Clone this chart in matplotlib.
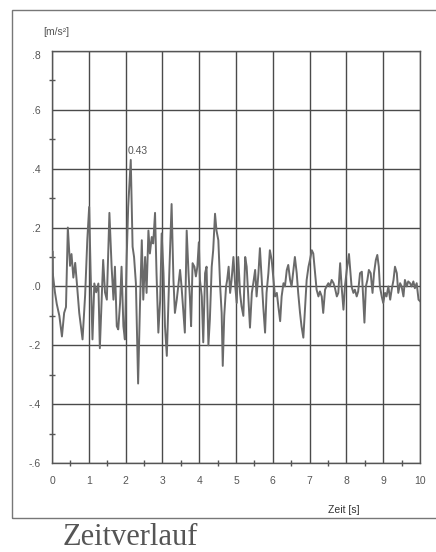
import matplotlib
matplotlib.use("Agg")
import matplotlib.pyplot as plt
from matplotlib.ticker import MultipleLocator, FuncFormatter
from matplotlib.patches import Rectangle

plt.rcParams["font.family"] = ["Liberation Sans", "DejaVu Sans"]

# acceleration trace: time [s] and value [m/s²]
zeit = [0.00, 0.01, 0.02, 0.08, 0.13, 0.20, 0.27, 0.33, 0.38, 0.43, 0.49, 0.53,
        0.58, 0.63, 0.67, 0.74, 0.83, 0.90, 0.96, 1.01, 1.05, 1.10, 1.15, 1.20,
        1.26, 1.30, 1.35, 1.39, 1.44, 1.49, 1.56,
        1.62, 1.67, 1.71, 1.76, 1.80, 1.85, 1.89, 1.94, 1.98, 2.03, 2.07, 2.14,
        2.19, 2.23, 2.28, 2.34, 2.39, 2.44, 2.48, 2.53, 2.57, 2.62, 2.66, 2.71,
        2.75, 2.80, 2.84, 2.89, 2.94, 2.98, 3.03, 3.07, 3.12, 3.19, 3.25,
        3.30, 3.34, 3.39, 3.43, 3.48, 3.52, 3.57, 3.61, 3.66, 3.71, 3.75, 3.78,
        3.82, 3.87, 3.91, 3.95, 3.99, 4.02, 4.07, 4.11, 4.16, 4.20, 4.25, 4.29,
        4.34, 4.38, 4.43, 4.47, 4.52, 4.57, 4.61, 4.64, 4.68, 4.73, 4.76, 4.80,
        4.84, 4.88, 4.93,
        4.98, 5.02, 5.06, 5.11, 5.15, 5.20, 5.25, 5.29, 5.34, 5.38, 5.43, 5.47,
        5.52, 5.56, 5.61, 5.65, 5.70, 5.74, 5.79, 5.83, 5.88, 5.92, 5.97, 6.01,
        6.06, 6.11, 6.15, 6.20, 6.24, 6.29, 6.33, 6.38, 6.42, 6.47,
        6.51, 6.56, 6.60, 6.65, 6.69, 6.74, 6.78, 6.83, 6.88, 6.92, 6.97, 7.01,
        7.06, 7.10, 7.15, 7.19, 7.24, 7.28, 7.33, 7.37, 7.42, 7.46, 7.51, 7.55,
        7.60, 7.65, 7.69, 7.74, 7.78, 7.83, 7.87, 7.92, 7.96, 8.01, 8.07,
        8.14, 8.19, 8.23, 8.28, 8.32, 8.37, 8.42, 8.46, 8.49, 8.53, 8.57, 8.61,
        8.66, 8.71, 8.75, 8.80, 8.84, 8.88, 8.91, 8.96, 9.00, 9.05, 9.09, 9.14,
        9.19, 9.23, 9.28, 9.32, 9.37, 9.41, 9.46, 9.50, 9.55, 9.59, 9.64, 9.68,
        9.73, 9.77, 9.82, 9.86, 9.91, 9.96, 10.00]
beschl = [-0.09, 0.12, 0.045, -0.02, -0.06, -0.10, -0.17, -0.09, -0.07, 0.20, 0.07, 0.11,
          0.03, 0.08, 0.02, -0.09, -0.18, -0.03, 0.16, 0.27, 0.045, -0.18, 0.01, -0.02,
          0.01, -0.21, -0.045, 0.09, -0.02, -0.045, 0.25,
          0.067, -0.045, 0.067, -0.135, -0.146, -0.056, 0.067, -0.135, -0.18, 0.10, 0.27, 0.43,
          0.135, 0.10, 0.01, -0.33, -0.067, 0.157, -0.045, 0.10, -0.022, 0.19, 0.112, 0.168,
          0.146, 0.25, 0.045, -0.157, -0.045, 0.18, 0.045, -0.135, -0.236, 0.056, 0.28,
          0.022, -0.09, -0.045, 0.0, 0.056, 0.0, -0.09, -0.157, 0.19, 0.045, -0.045, -0.135,
          0.079, 0.067, 0.034, 0.067, 0.15, 0.022, -0.034, -0.19, 0.045, 0.067, -0.20, -0.112,
          0.067, 0.123, 0.247, 0.19, 0.157, 0.0, -0.09, -0.27, -0.10, 0.0, 0.022, 0.067,
          -0.022, 0.022, 0.10,
          0.0, -0.056, 0.10, -0.022, -0.067, -0.10, 0.10, 0.067, -0.045, -0.14, -0.022, 0.011,
          0.056, -0.034, 0.045, 0.13, 0.022, -0.067, -0.157, -0.022, 0.045, 0.123, 0.09, 0.034,
          -0.034, -0.022, -0.067, -0.118, -0.034, 0.011, 0.0, 0.056, 0.073, 0.022,
          0.0, 0.056, 0.10, 0.045, -0.022, -0.09, -0.135, -0.174, -0.067, 0.022, 0.067, 0.09,
          0.123, 0.112, 0.045, -0.011, -0.034, -0.017, -0.034, -0.09, -0.011, 0.0, 0.011, 0.0,
          0.022, 0.011, -0.006, -0.034, -0.022, 0.079, 0.0, -0.079, 0.0, 0.056, 0.11,
          0.0, -0.022, -0.011, -0.034, -0.017, 0.045, 0.05, -0.045, -0.123, 0.0, 0.022, 0.056,
          0.045, -0.022, 0.045, 0.09, 0.107, 0.067, 0.0, -0.034, -0.056, -0.022, -0.034, 0.0,
          -0.045, -0.011, 0.022, 0.067, 0.045, -0.022, 0.011, 0.0, -0.034, 0.022, 0.0, 0.017,
          0.011, 0.0, 0.017, -0.006, 0.011, -0.045, -0.05]

GRAU = "#555555"

fig = plt.figure(figsize=(4.36, 5.52), dpi=100)
fig.patch.set_facecolor("white")

# outer frame of the scanned panel
fig.patches.append(Rectangle((12 / 436, 1 - 518 / 552), 1.0, (518 - 10) / 552,
                             transform=fig.transFigure, fill=False,
                             edgecolor="#777777", linewidth=1.0))

ax = fig.add_axes([52 / 436, 1 - 463 / 552, 368 / 436, 412 / 552])
ax.plot(zeit, beschl, color="#6a6a6a", linewidth=1.4, zorder=3)

ax.set_xlim(0, 10)
ax.set_ylim(-0.6, 0.8)
ax.xaxis.set_major_locator(MultipleLocator(1))
ax.xaxis.set_minor_locator(MultipleLocator(0.5))
ax.yaxis.set_major_locator(MultipleLocator(0.2))
ax.yaxis.set_minor_locator(MultipleLocator(0.1))


def kurz(v, pos):
    s = f"{v:.1f}"
    if s == "-0.0":
        s = "0.0"
    return s.replace("0.", ".", 1)


ax.yaxis.set_major_formatter(FuncFormatter(kurz))
ax.grid(True, which="major", color="#4a4a4a", linewidth=1.0)
for sp in ax.spines.values():
    sp.set_color(GRAU)
    sp.set_linewidth(1.0)

ax.tick_params(which="major", length=0, labelsize=7.5, labelcolor=GRAU)
ax.tick_params(axis="x", which="major", pad=9)
ax.tick_params(axis="y", which="major", pad=8)
ax.tick_params(which="minor", direction="inout", length=5, width=1.0, color=GRAU)

# peak annotation
i_max = beschl.index(max(beschl))
ax.annotate(f"{beschl[i_max]:.2f}", xy=(zeit[i_max], beschl[i_max]),
            xytext=(-3, 4), textcoords="offset pixels", ha="left", va="bottom",
            fontsize=7.5, color=GRAU)

fig.text(43 / 436, 1 - 32 / 552, "[m/s²]", fontsize=7.5, color=GRAU,
         ha="left", va="center")
ax.text(0.793, -0.114, "Zeit [s]", transform=ax.transAxes, fontsize=7.5,
        color="#333333", ha="center", va="center")

fig.text(63 / 436, 1 - 545 / 552, "Zeitverlauf", fontsize=22, color=GRAU,
         family="Liberation Serif", ha="left", va="baseline")

# the top label sits below its gridline in the original
fig.canvas.draw()
for lab in ax.get_yticklabels():
    if lab.get_text() == ".8":
        lab.set_va("top")

fig.savefig("out.png", dpi=100)
